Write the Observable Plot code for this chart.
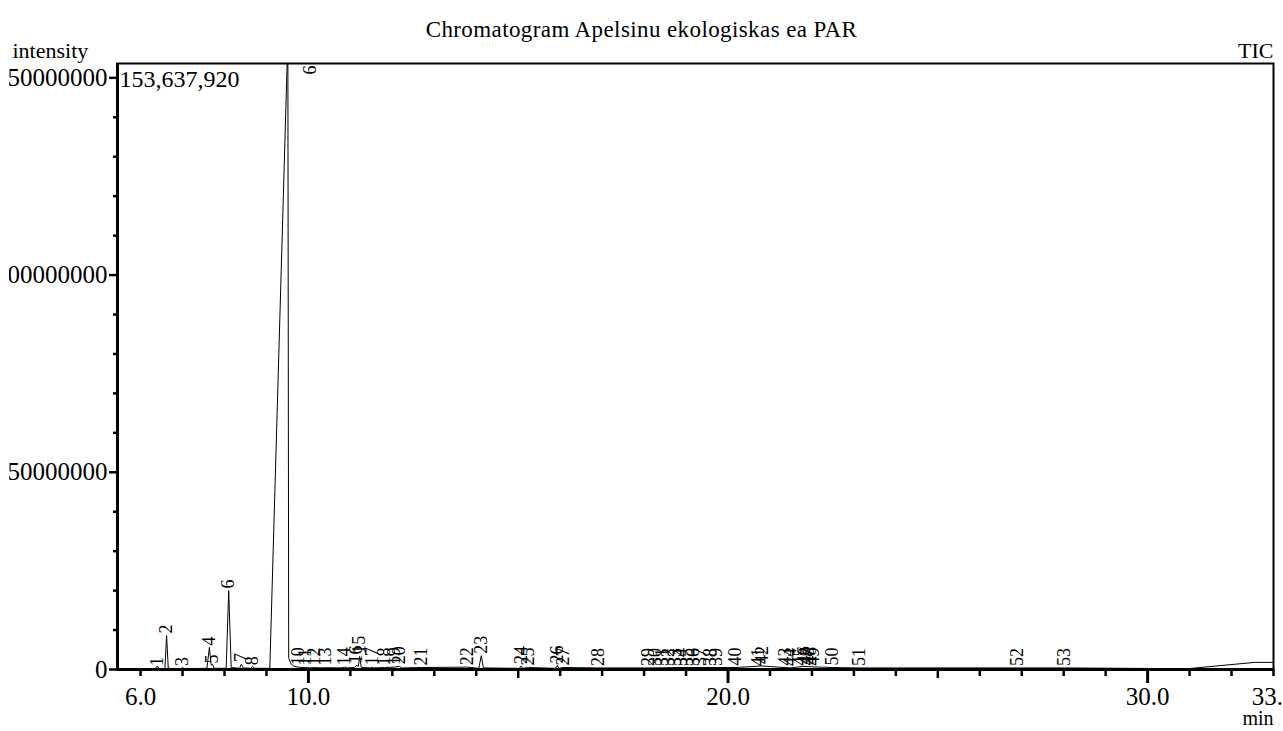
<!DOCTYPE html>
<html>
<head>
<meta charset="utf-8">
<script src="https://cdn.jsdelivr.net/npm/d3@7"></script>
<script src="https://cdn.jsdelivr.net/npm/@observablehq/plot@0.6"></script>
<style>
  html, body { margin: 0; padding: 0; background: white; overflow: hidden; }
  #wrap { position: relative; width: 1283px; height: 731px; }
  #title { position: absolute; left: 0; top: 18px; width: 1283px; height: 24px; line-height: 24px; text-align: center;
           font-family: 'Liberation Serif', 'Times New Roman', serif; font-size: 23px; letter-spacing: 0.4px; color: black; z-index: 2; }
  #leftclip { position: absolute; left: 0; top: 62px; width: 9px; height: 630px; background: white; z-index: 2; }
  #chart svg { display: block; }
</style>
</head>
<body>
<div id="wrap">
<div id="chart"></div>
<div id="title"></div>
<div id="leftclip"></div>
</div>
<script>
// ---- Data ----
const titleText = "Chromatogram Apelsinu ekologiskas ea PAR";
const yMaxLabel = "153,637,920";
const yMax = 153637920;
const xRange = [5.45, 33.0];

// TIC trace: retention time (min) and intensity
const traceTime = [
  5.45, 6.35, 6.40, 6.44, 6.58, 6.62, 6.66, 6.96, 7.00, 7.04,
  7.58, 7.64, 7.68, 7.71, 7.76, 8.04, 8.10, 8.16, 8.36, 8.40,
  8.45, 8.63, 8.67, 8.72, 9.08, 9.51, 9.53, 9.58, 9.66, 9.76,
  9.85, 9.93, 10.05, 10.14, 10.30, 10.40, 10.80, 10.86, 10.92, 11.10,
  11.15, 11.19, 11.22, 11.26, 11.48, 11.52, 11.56, 11.81, 12.05, 12.17,
  12.22, 12.69, 13.79, 14.06, 14.12, 14.17, 15.03, 15.07, 15.11, 15.24,
  15.89, 15.93, 15.97, 16.07, 16.90, 18.10, 18.90, 20.17, 20.81, 21.48,
  21.81, 21.95, 22.48, 23.12, 26.90, 28.02, 30.95, 32.55, 33.0
];
const traceIntensity = [
  2.0e5, 2.0e5, 9.0e5, 2.0e5, 2.0e5, 8.6e6, 3.0e5, 2.0e5, 5.0e5, 2.0e5,
  3.0e5, 5.6e6, 1.2e6, 1.3e6, 3.0e5, 3.0e5, 2.0e7, 5.0e5, 3.0e5, 1.3e6,
  4.0e5, 3.0e5, 8.0e5, 3.0e5, 3.0e5, 1.6e8, 3.0e6, 1.5e6, 8.0e5, 6.0e5,
  5.0e5, 5.0e5, 4.0e5, 5.0e5, 4.0e5, 4.5e5, 4.0e5, 6.0e5, 4.0e5, 5.0e5,
  1.0e6, 8.0e5, 3.3e6, 5.0e5, 4.0e5, 6.0e5, 4.0e5, 5.0e5, 6.0e5, 8.0e5,
  4.0e5, 5.0e5, 6.0e5, 3.0e5, 3.5e6, 4.0e5, 3.0e5, 9.0e5, 3.0e5, 5.0e5,
  3.0e5, 1.0e6, 3.0e5, 5.0e5, 4.0e5, 4.0e5, 5.0e5, 5.0e5, 9.0e5, 4.0e5,
  8.0e5, 7.0e5, 5.0e5, 4.0e5, 4.0e5, 4.0e5, 2.0e5, 1.8e6, 1.8e6
];

// Peak labels
const peakNo = [
  1, 2, 3, 4, 5, 6, 7, 8, 10, 11, 12, 13, 14, 15, 16, 17, 18, 19, 20, 21,
  22, 23, 24, 25, 26, 27, 28, 29, 30, 31, 32, 33, 34, 35, 36, 37, 38, 39, 40,
  41, 42, 43, 44, 45, 46, 47, 48, 49, 50, 51, 52, 53
];
const peakTime = [
  6.40, 6.62, 7.00, 7.64, 7.71, 8.10, 8.40, 8.67, 9.76, 9.93, 10.14, 10.40, 10.86, 11.22, 11.15, 11.52, 11.81, 12.05, 12.17, 12.69,
  13.79, 14.12, 15.07, 15.24, 15.93, 16.07, 16.90, 18.10, 18.26, 18.43, 18.57, 18.74, 18.88, 19.02, 19.17, 19.33, 19.57, 19.71, 20.17,
  20.71, 20.81, 21.36, 21.48, 21.71, 21.81, 21.88, 21.95, 22.02, 22.48, 23.12, 26.90, 28.02
];
const peakHeight = [
  0.4e6, 8.6e6, 0.4e6, 5.6e6, 1.0e6, 2.0e7, 1.4e6, 0.6e6, 0.6e6, 0.5e6, 0.5e6, 0.5e6, 0.6e6, 3.5e6, 1.0e6, 0.6e6, 0.5e6, 0.6e6, 0.8e6, 0.5e6,
  0.6e6, 3.5e6, 0.9e6, 0.5e6, 1.0e6, 0.5e6, 0.4e6, 0.4e6, 0.4e6, 0.4e6, 0.4e6, 0.4e6, 0.4e6, 0.4e6, 0.4e6, 0.4e6, 0.4e6, 0.4e6, 0.5e6,
  0.4e6, 0.9e6, 0.5e6, 0.4e6, 0.5e6, 0.8e6, 0.6e6, 0.7e6, 0.5e6, 0.5e6, 0.4e6, 0.4e6, 0.4e6
];
// Off-scale main peak label
const bigPeakNo = [9];
const bigPeakTime = [10.0];

// Axis ticks
const xMinorTicks = [6,7,8,9,11,12,13,14,16,17,18,19,21,22,23,24,26,27,28,29,31,32,33];
const xMidTicks = [15, 25];
const xMajorTicks = [10, 20, 30];
const xTickLabels = [6, 10, 20, 30, 33];
const yMinorTicks = [10e6,20e6,30e6,40e6,60e6,70e6,80e6,90e6,110e6,120e6,130e6,140e6];
const yMajorTicks = [0, 50e6, 100e6, 150e6];

// ---- Build tables ----
const trace = traceTime.map((t, i) => ({t, v: traceIntensity[i]}));
const peaks = peakNo.map((n, i) => ({n, t: peakTime[i], h: peakHeight[i]}));
const bigPeaks = bigPeakNo.map((n, i) => ({n, t: bigPeakTime[i], h: yMax}));

document.getElementById("title").textContent = titleText;

const serif = "'Liberation Serif', 'Times New Roman', serif";
const noText = () => "";
const chart = Plot.plot({
  width: 1283,
  height: 731,
  marginLeft: 117,
  marginRight: 10,
  marginTop: 63,
  marginBottom: 62,
  style: {fontFamily: serif, fontSize: "22px", background: "white", color: "black"},
  x: {domain: xRange, axis: null},
  y: {domain: [0, yMax], axis: null},
  marks: [
    Plot.line(trace, {x: "t", y: "v", stroke: "black", strokeWidth: 1, clip: true}),
    Plot.text(peaks, {x: "t", y: "h", text: d => String(d.n), rotate: -90, textAnchor: "start", lineAnchor: "middle", dy: -2, fontSize: 18, fontFamily: serif}),
    Plot.text(bigPeaks, {x: "t", y: "h", text: d => String(d.n), rotate: 90, textAnchor: "start", lineAnchor: "middle", dy: 2, fontSize: 18, fontFamily: serif}),
    Plot.frame({stroke: "black", strokeWidth: 2}),
    Plot.ruleX([xRange[0]], {stroke: "black", strokeWidth: 3}),
    Plot.ruleY([0], {stroke: "black", strokeWidth: 3}),
    Plot.axisX(xMinorTicks, {anchor: "bottom", tickSize: 7, strokeWidth: 2.5, tickFormat: noText, label: null}),
    Plot.axisX(xMidTicks, {anchor: "bottom", tickSize: 9, strokeWidth: 2.5, tickFormat: noText, label: null}),
    Plot.axisX(xMajorTicks, {anchor: "bottom", tickSize: 14, strokeWidth: 3, tickFormat: noText, label: null}),
    Plot.axisX(xTickLabels, {anchor: "bottom", tickSize: 0, tickPadding: 18, tickFormat: d => d.toFixed(1), label: null, fontSize: 25, fontFamily: serif}),
    Plot.axisY(yMinorTicks, {anchor: "left", tickSize: 4, strokeWidth: 2.5, tickFormat: noText, label: null}),
    Plot.axisY(yMajorTicks, {anchor: "left", tickSize: 8, strokeWidth: 2.5, tickPadding: 2, tickFormat: d => String(d), label: null, fontSize: 25, fontFamily: serif}),
    Plot.text([yMaxLabel], {frameAnchor: "top-left", dx: 2, dy: 16, textAnchor: "start", lineAnchor: "middle", fontSize: 24, fontFamily: serif}),
    Plot.text(["intensity"], {frameAnchor: "top-left", dx: -105, dy: -13, textAnchor: "start", lineAnchor: "middle", fontSize: 22, fontFamily: serif}),
    Plot.text(["TIC"], {frameAnchor: "top-right", dx: 0, dy: -13, textAnchor: "end", lineAnchor: "middle", fontSize: 22, fontFamily: serif}),
    Plot.text(["min"], {frameAnchor: "bottom-right", dx: 0, dy: 49, textAnchor: "end", lineAnchor: "middle", fontSize: 20, fontFamily: serif})
  ]
});
document.getElementById("chart").appendChild(chart);
</script>
</body>
</html>
